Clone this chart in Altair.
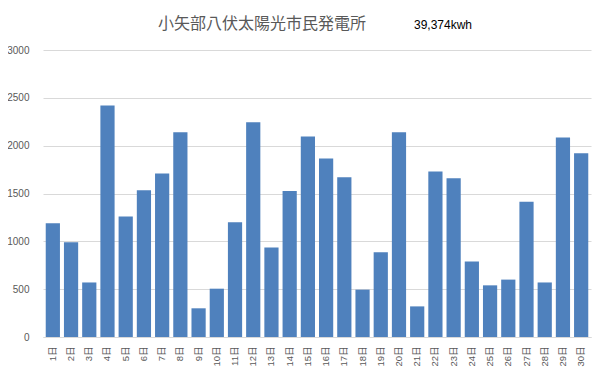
import altair as alt
import pandas as pd

days = ["1日", "2日", "3日", "4日", "5日", "6日", "7日", "8日", "9日", "10日",
        "11日", "12日", "13日", "14日", "15日", "16日", "17日", "18日", "19日", "20日",
        "21日", "22日", "23日", "24日", "25日", "26日", "27日", "28日", "29日", "30日"]
kwh = [1190, 990, 570, 2420, 1260, 1535, 1710, 2140, 300, 505,
       1200, 2245, 935, 1525, 2095, 1865, 1670, 495, 885, 2140,
       320, 1730, 1660, 790, 540, 600, 1415, 570, 2085, 1920]
title_text = ["小矢部八伏太陽光市民発電所"]
total_text = ["39,374kwh"]
y_ticks = [0, 500, 1000, 1500, 2000, 2500, 3000]

df = pd.DataFrame({"day": days, "kwh": kwh})

LAT = "Liberation Sans, 'Noto Sans CJK JP'"

bars = alt.Chart(df).mark_bar(color="#4f81bd").encode(
    x=alt.X("day:N", sort=days, title=None,
            scale=alt.Scale(paddingInner=0.22, paddingOuter=0.15),
            axis=alt.Axis(labelAngle=-90, labelFont=LAT, labelFontSize=9.5,
                          labelColor="#595959", ticks=False, domain=True,
                          domainColor="#d9d9d9", labelPadding=9, grid=False)),
    y=alt.Y("kwh:Q", title=None,
            scale=alt.Scale(domain=[0, 3000], nice=False),
            axis=alt.Axis(values=y_ticks, format="d", labelFont="Liberation Sans",
                          labelFontSize=10, labelColor="#595959", ticks=False,
                          domain=False, gridColor="#d9d9d9", gridWidth=1,
                          labelPadding=14)),
)

title = alt.Chart(pd.DataFrame({"t": title_text})).mark_text(
    font="'Noto Sans CJK JP'", fontSize=16, color="#595959",
    align="center", baseline="middle"
).encode(text="t:N", x=alt.value(219), y=alt.value(-26))

total = alt.Chart(pd.DataFrame({"t": total_text})).mark_text(
    font="Liberation Sans", fontSize=12, color="#000000",
    align="left", baseline="middle"
).encode(text="t:N", x=alt.value(371), y=alt.value(-25))

chart = alt.layer(bars, title, total).properties(
    width=548, height=287,
    padding={"left": 35, "top": 42, "right": 6, "bottom": 31},
    autosize=alt.AutoSizeParams(type="none"),
    background="white",
).configure_view(stroke=None)

chart.save("out.html", embed_options={"renderer": "svg", "actions": False})
